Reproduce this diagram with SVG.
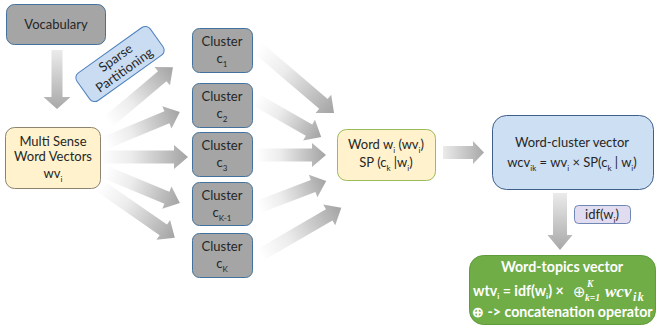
<svg xmlns="http://www.w3.org/2000/svg" width="659" height="329" viewBox="0 0 659 329">
<defs>
<linearGradient id="fade" x1="0" y1="0" x2="1" y2="0">
<stop offset="0" stop-color="#ffffff"/>
<stop offset="0.35" stop-color="#ececec"/>
<stop offset="1" stop-color="#a3a3a3"/>
</linearGradient>
<linearGradient id="fadeSoft" x1="0" y1="0" x2="1" y2="0">
<stop offset="0" stop-color="#ebebeb"/>
<stop offset="1" stop-color="#a8a8a8"/>
</linearGradient>
<style>
text{font-family:Lato,"Liberation Sans",sans-serif;font-size:13px;fill:#262626}
.c{text-anchor:middle}
.sub{font-size:8px}
.gray{fill:#a5a5a5;stroke:#41719c;stroke-width:1}
.yel{fill:#fff2cc}
.w{fill:#ffffff;font-weight:bold;font-size:14.2px}
.m{font-family:"Liberation Serif","DejaVu Serif",serif;font-style:italic;font-weight:bold;fill:#ffffff}
.m9{font-size:9.5px}
.m17{font-size:17px}
.m12{font-size:12px;letter-spacing:1.5px}
.op{font-family:"DejaVu Sans",sans-serif;font-size:15px;fill:#ffffff}
.fa{fill:url(#fade)}
.fs{fill:url(#fadeSoft)}
</style>
</defs>

<g id="connectors">
<path class="fs" transform="translate(57,50) rotate(90)" d="M0,-5.5 L47,-5.5 L47,-13.5 L59,0 L47,13.5 L47,5.5 L0,5.5 Z"/>
<path class="fa" transform="translate(108,122) rotate(-40.2)" d="M0,-6.5 L71,-6.5 L71,-12 L85,0 L71,12 L71,6.5 L0,6.5 Z"/>
<path class="fa" transform="translate(105,143) rotate(-22.5)" d="M0,-6.5 L67,-6.5 L67,-12 L81,0 L67,12 L67,6.5 L0,6.5 Z"/>
<path class="fa" transform="translate(100,157) rotate(0)" d="M0,-6.5 L74,-6.5 L74,-12 L88,0 L74,12 L74,6.5 L0,6.5 Z"/>
<path class="fa" transform="translate(105,172) rotate(22.5)" d="M0,-6.5 L67,-6.5 L67,-12 L81,0 L67,12 L67,6.5 L0,6.5 Z"/>
<path class="fa" transform="translate(100,186) rotate(34.7)" d="M0,-6.5 L77,-6.5 L77,-12 L91,0 L77,12 L77,6.5 L0,6.5 Z"/>
<path class="fa" transform="translate(258,48) rotate(40.5)" d="M0,-6.5 L86,-6.5 L86,-12 L100,0 L86,12 L86,6.5 L0,6.5 Z"/>
<path class="fa" transform="translate(256,100) rotate(29.6)" d="M0,-6.5 L61,-6.5 L61,-12 L75,0 L61,12 L61,6.5 L0,6.5 Z"/>
<path class="fa" transform="translate(256,155) rotate(0)" d="M0,-6.5 L56,-6.5 L56,-12 L70,0 L56,12 L56,6.5 L0,6.5 Z"/>
<path class="fa" transform="translate(258,207) rotate(-20.9)" d="M0,-6.5 L59,-6.5 L59,-12 L73,0 L59,12 L59,6.5 L0,6.5 Z"/>
<path class="fa" transform="translate(260,255) rotate(-30.1)" d="M0,-6.5 L80,-6.5 L80,-12 L94,0 L80,12 L80,6.5 L0,6.5 Z"/>
<path class="fs" transform="translate(443,152.5)" d="M0,-6.5 L30,-6.5 L30,-11.5 L41,0 L30,11.5 L30,6.5 L0,6.5 Z"/>
<path class="fs" transform="translate(560,193) rotate(90)" d="M0,-7 L42,-7 L42,-12.5 L57,0 L42,12.5 L42,7 L0,7 Z"/>
</g>

<g id="vocabulary">
<rect class="gray" x="6.5" y="4.5" width="99" height="40" rx="8"/>
<text class="c" x="56" y="29">Vocabulary</text>
</g>

<g id="sparse-partitioning" transform="translate(120,64) rotate(-35.5)">
<rect x="-45" y="-17" width="90" height="34" rx="6" fill="#cadcf1" stroke="#4f81bd"/>
<text class="c" x="0" y="-3">Sparse</text>
<text class="c" x="0" y="12">Partitioning</text>
</g>

<g id="multi-sense">
<rect class="yel" x="5.5" y="127.5" width="95" height="61" rx="9" stroke="#8c8470"/>
<text class="c" x="53" y="146">Multi Sense</text>
<text class="c" x="53" y="161">Word Vectors</text>
<text class="c" x="53" y="178">wv<tspan class="sub" dy="4">i</tspan></text>
</g>

<g id="cluster-1">
<rect class="gray" x="192.5" y="28.5" width="60" height="44" rx="7"/>
<text class="c" x="222" y="46">Cluster</text>
<text class="c" x="222" y="63">c<tspan class="sub" dy="4">1</tspan></text>
</g>
<g id="cluster-2">
<rect class="gray" x="192.5" y="83.5" width="60" height="44" rx="7"/>
<text class="c" x="222" y="101">Cluster</text>
<text class="c" x="222" y="118">c<tspan class="sub" dy="4">2</tspan></text>
</g>
<g id="cluster-3">
<rect class="gray" x="192.5" y="132.5" width="60" height="44" rx="7"/>
<text class="c" x="222" y="150">Cluster</text>
<text class="c" x="222" y="167">c<tspan class="sub" dy="4">3</tspan></text>
</g>
<g id="cluster-k-1">
<rect class="gray" x="192.5" y="182.5" width="60" height="43" rx="7"/>
<text class="c" x="222" y="200">Cluster</text>
<text class="c" x="222" y="217">c<tspan class="sub" dy="4">K-1</tspan></text>
</g>
<g id="cluster-k">
<rect class="gray" x="192.5" y="233.5" width="60" height="44" rx="7"/>
<text class="c" x="222" y="251">Cluster</text>
<text class="c" x="222" y="268">c<tspan class="sub" dy="4">K</tspan></text>
</g>

<g id="word">
<rect class="yel" x="337.5" y="129.5" width="98" height="51" rx="9" stroke="#9bbb59"/>
<text class="c" x="386" y="149">Word w<tspan class="sub" dy="4">i</tspan><tspan dy="-4"> (wv</tspan><tspan class="sub" dy="4">i</tspan><tspan dy="-4">)</tspan></text>
<text class="c" x="386" y="167">SP (c<tspan class="sub" dy="4">k</tspan><tspan dy="-4"> |w</tspan><tspan class="sub" dy="4">i</tspan><tspan dy="-4">)</tspan></text>
</g>

<g id="word-cluster-vector">
<rect x="492.5" y="115.5" width="161" height="74" rx="14" fill="#cddff3" stroke="#3f5f8a"/>
<text class="c" x="572" y="147">Word-cluster vector</text>
<text class="c" x="572" y="167">wcv<tspan class="sub" dy="4">ik</tspan><tspan dy="-4"> = wv</tspan><tspan class="sub" dy="4">i</tspan><tspan dy="-4"> × SP(c</tspan><tspan class="sub" dy="4">k</tspan><tspan dy="-4"> | w</tspan><tspan class="sub" dy="4">i</tspan><tspan dy="-4">)</tspan></text>
</g>

<g id="idf">
<rect x="574.5" y="205.5" width="56" height="18" rx="4" fill="#e2dcf0" stroke="#6f87b5"/>
<text class="c" x="602" y="219">idf(w<tspan class="sub" dy="4">i</tspan><tspan dy="-4">)</tspan></text>
</g>

<g id="word-topics-vector">
<rect x="469.5" y="255.5" width="186" height="69" rx="14" fill="#70ad47" stroke="#5f9a3c"/>
<text class="c w" x="562" y="272">Word-topics vector</text>
<text class="w" x="473" y="296">wtv<tspan class="sub" dy="3">i</tspan><tspan dy="-3"> = idf(w</tspan><tspan class="sub" dy="3">i</tspan><tspan dy="-3">) ×</tspan></text>
<text class="op" x="573" y="297">⊕</text>
<text class="m m9" x="587" y="287">K</text>
<text class="m m9" x="585" y="301">k=1</text>
<text class="m m17" x="605" y="297">wcv</text>
<text class="m m12" x="633" y="301">ik</text>
<text class="w" x="472" y="317">⊕ -&gt; concatenation operator</text>
</g>
</svg>
